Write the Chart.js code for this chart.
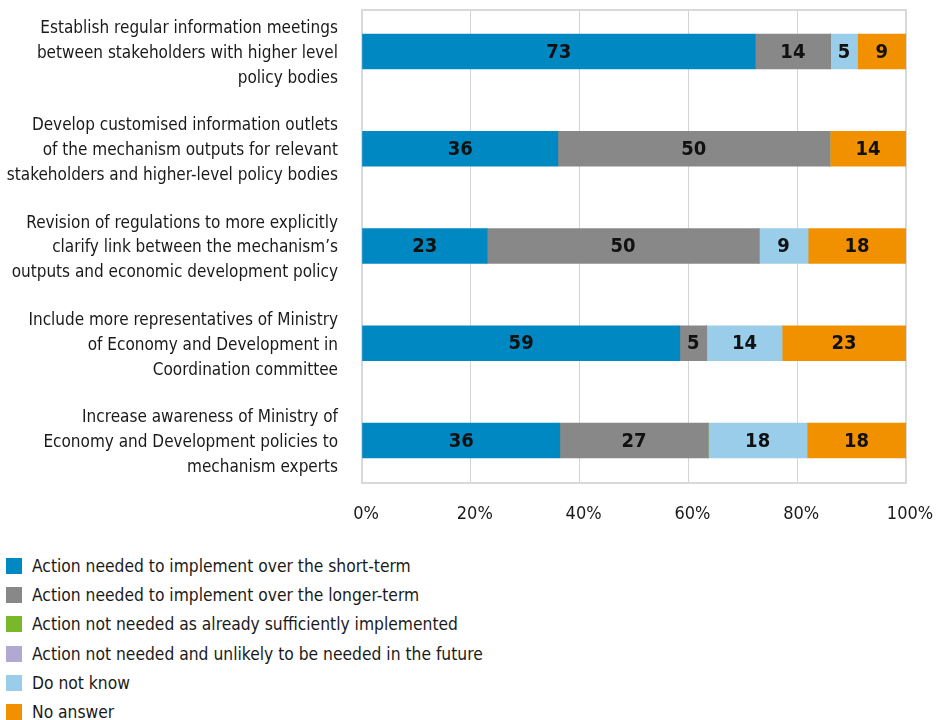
<!DOCTYPE html>
<html>
<head>
<meta charset="utf-8">
<script src="https://cdn.jsdelivr.net/npm/chart.js@4.4.0/dist/chart.umd.min.js"></script>
<style>
  body { margin: 0; background: #fff; }
  #wrap { position: relative; width: 936px; height: 720px; }
  #grafica { position: absolute; left: 0; top: 0; }
  #leyenda { position: absolute; left: 6px; top: 551px; color: #1a1a1a; font-size: 17.3px;
             font-family: "Liberation Sans Narrow", "DejaVu Sans Condensed", Roboto, sans-serif; }
  .item { display: flex; align-items: center; height: 29.3px; white-space: nowrap; }
  .caja { width: 16px; height: 16px; margin-right: 10px; }
</style>
</head>
<body>
<div id="wrap">
  <canvas id="grafica" width="936" height="540"></canvas>
  <div id="leyenda"></div>
</div>
<script>
const FUENTE = '"Liberation Sans Narrow", "DejaVu Sans Condensed", Roboto, sans-serif';

// Datos de la gráfica
const categorias = [
    ['Establish regular information meetings', 'between stakeholders with higher level', 'policy bodies'],
    ['Develop customised information outlets', 'of the mechanism outputs for relevant', 'stakeholders and higher-level policy bodies'],
    ['Revision of regulations to more explicitly', 'clarify link between the mechanism’s', 'outputs and economic development policy'],
    ['Include more representatives of Ministry', 'of Economy and Development in', 'Coordination committee'],
    ['Increase awareness of Ministry of', 'Economy and Development policies to', 'mechanism experts']
];
const nombresSeries = [
    'Action needed to implement over the short-term',
    'Action needed to implement over the longer-term',
    'Action not needed as already sufficiently implemented',
    'Action not needed and unlikely to be needed in the future',
    'Do not know',
    'No answer'
];
const coloresSeries = ['#0088c2', '#888888', '#78b82a', '#b1a8d4', '#9acde9', '#f29100'];
const cortoPlazo     = [73, 36, 23, 59, 36];
const largoPlazo     = [14, 50, 50, 5, 27];
const yaImplementado = [0, 0, 0, 0, 0];
const noNecesario    = [0, 0, 0, 0, 0];
const noSabe         = [5, 0, 9, 14, 18];
const sinRespuesta   = [9, 14, 18, 23, 18];
const ticksX = [0, 20, 40, 60, 80, 100];

// margen del eje de categorías (en unidades de fila), como en el original
const yMin = -0.427;
const yMax = 4.437;

const series = [cortoPlazo, largoPlazo, yaImplementado, noNecesario, noSabe, sinRespuesta];
// total de cada fila, para que cada barra llegue al 100%
const totales = categorias.map((c, j) => series.reduce((s, serie) => s + serie[j], 0));

const datasets = series.map((serie, i) => ({
    label: nombresSeries[i],
    valores: serie,
    data: serie.map((v, j) => ({ x: v / totales[j] * 100, y: j })),
    backgroundColor: coloresSeries[i],
    borderWidth: 0,
    barThickness: 35
}));

// Marco gris alrededor del área de la gráfica
const marco = {
    id: 'marco',
    beforeDatasetsDraw(chart) {
        const { ctx, chartArea: a } = chart;
        ctx.save();
        ctx.strokeStyle = '#d9d9d9';
        ctx.lineWidth = 2;
        ctx.strokeRect(a.left, a.top, a.width, a.height);
        ctx.restore();
    }
};

// Números dentro de las barras
const etiquetas = {
    id: 'etiquetas',
    afterDatasetsDraw(chart) {
        const c = chart.ctx;
        c.save();
        c.font = 'bold 20px ' + FUENTE;
        c.fillStyle = '#111';
        c.textAlign = 'center';
        c.textBaseline = 'middle';
        chart.data.datasets.forEach((ds, i) => {
            chart.getDatasetMeta(i).data.forEach((barra, j) => {
                const v = ds.valores[j];
                if (!v) return;
                c.fillText(v, (barra.x + barra.base) / 2, barra.y + 1);
            });
        });
        c.restore();
    }
};

const ctx = document.getElementById('grafica').getContext('2d');
new Chart(ctx, {
    type: 'bar',
    data: { datasets: datasets },
    options: {
        indexAxis: 'y',
        responsive: false,
        animation: false,
        layout: { padding: { top: 10, right: 30, left: 0, bottom: 0 } },
        plugins: { legend: { display: false }, tooltip: { enabled: false } },
        scales: {
            x: {
                stacked: true,
                min: 0,
                max: 100,
                afterBuildTicks: (s) => { s.ticks = ticksX.map(v => ({ value: v })); },
                grid: { color: '#d4d4d4', lineWidth: 1, drawTicks: false },
                border: { display: false },
                ticks: {
                    padding: 21,
                    labelOffset: 4,
                    color: '#1a1a1a',
                    font: { family: FUENTE, size: 18 },
                    callback: (v) => v + '%'
                },
                afterFit: (s) => { s.height = 57; s.paddingLeft = 0; s.paddingRight = 0; }
            },
            y: {
                type: 'linear',
                stacked: true,
                reverse: true,
                offset: false,
                bounds: 'data',
                min: yMin,
                max: yMax,
                afterBuildTicks: (s) => {
                    s.ticks = categorias.map((c, i) => ({ value: i }));
                    s.min = yMin;
                    s.max = yMax;
                },
                grid: { display: false },
                border: { display: false },
                ticks: {
                    autoSkip: false,
                    padding: 16,
                    labelOffset: 2,
                    color: '#1a1a1a',
                    font: { family: FUENTE, size: 17, lineHeight: 1.46 },
                    callback: (v) => categorias[v] || ''
                },
                afterFit: (s) => { s.width = 362; s.paddingTop = 0; s.paddingBottom = 0; }
            }
        }
    },
    plugins: [marco, etiquetas]
});

// Leyenda en columna debajo de la gráfica
const leyenda = document.getElementById('leyenda');
nombresSeries.forEach((nombre, i) => {
    const item = document.createElement('div');
    item.className = 'item';
    const caja = document.createElement('span');
    caja.className = 'caja';
    caja.style.background = coloresSeries[i];
    item.appendChild(caja);
    item.appendChild(document.createTextNode(nombre));
    leyenda.appendChild(item);
});
</script>
</body>
</html>
